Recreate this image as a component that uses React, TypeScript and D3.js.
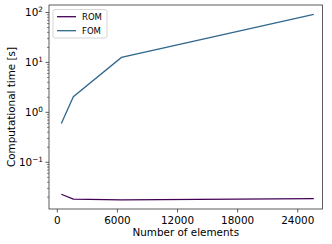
import React from 'react'
import * as d3 from 'd3'

const elements = [400, 1600, 6400, 25600]
const romTime = [0.0229, 0.0182, 0.0177, 0.0187]
const fomTime = [0.6, 2.05, 12.6, 92]
const xTicks = [0, 6000, 12000, 18000, 24000]
const yDecades = [-1, 0, 1, 2]

const series = [
  { name: 'ROM', values: romTime, color: '#440154' },
  { name: 'FOM', values: fomTime, color: '#31688e' }
]

const width = 332
const height = 244
const left = 49
const right = 322.5
const top = 5
const bottom = 209

const x = d3.scaleLinear().domain([-830, 26470]).range([left, right])
const y = d3
  .scaleLog()
  .domain([Math.pow(10, -1.936), Math.pow(10, 2.15)])
  .range([bottom, top])

const minorTicks: number[] = []
for (let k = -2; k <= 2; k++) {
  for (let m = 2; m <= 9; m++) {
    const v = m * Math.pow(10, k)
    if (v >= y.domain()[0] && v <= y.domain()[1]) minorTicks.push(v)
  }
}

const line = d3
  .line<number>()
  .x((_, i) => x(elements[i]))
  .y(d => y(d))

export default function App() {
  return (
    <svg
      width={width}
      height={height}
      style={{ position: 'absolute', left: 0, top: 0 }}
      fontFamily="DejaVu Sans"
      fill="#000"
    >
      <rect width={width} height={height} fill="#fff" />
      {series.map(s => (
        <path
          key={s.name}
          d={line(s.values) || ''}
          fill="none"
          stroke={s.color}
          strokeWidth={1.3}
        />
      ))}
      {minorTicks.map(v => (
        <line key={v} x1={left} x2={left - 2} y1={y(v)} y2={y(v)} stroke="#333" strokeWidth={0.6} />
      ))}
      {yDecades.map(k => (
        <g key={k} transform={`translate(0,${y(Math.pow(10, k))})`}>
          <line x1={left} x2={left - 3.5} stroke="#333" strokeWidth={0.8} />
          <text x={left - 6} dy="0.35em" textAnchor="end" fontSize={10.4}>
            10
            <tspan fontSize={7.3} dy="-0.55em">{k < 0 ? '\u2212' + -k : k}</tspan>
          </text>
        </g>
      ))}
      {xTicks.map(t => (
        <g key={t} transform={`translate(${x(t)},0)`}>
          <line y1={bottom} y2={bottom + 3.5} stroke="#333" strokeWidth={0.8} />
          <text y={bottom + 15} textAnchor="middle" fontSize={10.4}>
            {t}
          </text>
        </g>
      ))}
      <rect
        x={left}
        y={top}
        width={right - left}
        height={bottom - top}
        fill="none"
        stroke="#333"
        strokeWidth={0.8}
      />
      <text x={(left + right) / 2} y={236} textAnchor="middle" fontSize={10.4}>
        Number of elements
      </text>
      <text
        transform={`translate(15,${(top + bottom) / 2}) rotate(-90)`}
        textAnchor="middle"
        fontSize={10.4}
      >
        Computational time [s]
      </text>
      <g transform="translate(53,9.5)">
        <rect width={54} height={28.5} rx={2} fill="#fff" stroke="#ccc" strokeWidth={0.8} />
        {series.map((s, i) => (
          <g key={s.name} transform={`translate(0,${7.2 + i * 14})`}>
            <line x1={4} x2={23} stroke={s.color} strokeWidth={1.3} />
            <text x={29} dy="0.35em" fontSize={8.5}>
              {s.name}
            </text>
          </g>
        ))}
      </g>
    </svg>
  )
}
